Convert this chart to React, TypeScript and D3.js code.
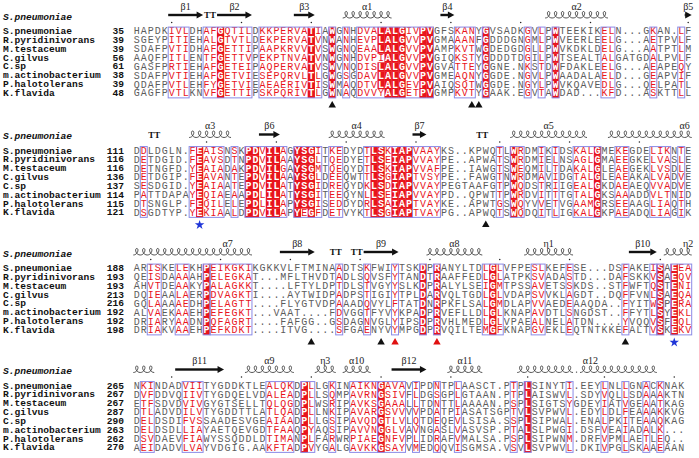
import React from 'react';
import * as d3 from 'd3';

const NAMES = ['S.pneumoniae', 'R.pyridinivorans', 'M.testaceum', 'C.gilvus', 'C.sp', 'm.actinobacterium', 'P.halotolerans', 'K.flavida'];
const REF_NAME = 'S.pneumoniae';

const START_1 = [35, 39, 39, 56, 61, 38, 39, 48];
const START_2 = [111, 116, 116, 136, 137, 114, 115, 121];
const START_3 = [188, 193, 193, 213, 216, 192, 192, 198];
const START_4 = [265, 267, 267, 287, 290, 263, 262, 270];

const SEQ_1 = [
  'HAPDKIVLDHAFGQTILDKKPERVATIAWGNHDVALALGIVPVGFSKANYGVSADKGVLPWTEEKIKELN...GKAN.LF',
  'SGEYPITIEHALGTVTLDEKPERVATVNWANHEVPLALGVVPVGMAAANFGDDDGNGMLPWVEERLEELG...AETPVLF',
  'SDAFPVTIDHAFGETTIPAAPKRVVTVSWGNQEAALALGVVPVAMPKVTWGDEDGDGLLPWVKDKLDELG...AATPTLM',
  'AAQFPITLENTFGETTVPEKPTNVATVNWGNHDVPIALGVVPVGIQKSTYGDDDTDGILPWTSEALTALGATGDALPVLF',
  'GASFPRTIEHAFGETEIPAQPERVATVSWVNQDISLALGVVPVGVATTEYGGNE.NKSTDWFDAKLEELG...AEAPEQY',
  'SDAFPVTIEHAFGETVIESEPQRVLTLGWGSGDAVLALGVVPVGMEAQNYGGDE.NGVLPWAADALAELD...GEAPVIF',
  'QDAFPVTLEHFYGETVIEAEAERIVTISWMAQDTVLALGEVPVAIQSQTWGGDE.NGYLPWVKQAVEDLG...QELPATL',
  'GAGFPVTLKNVFGETTIPSKPQRIVTLGWNAQDVVYALGETPVGMPKVTYGAAK.EGVTAWDAD...KFD...ASKTTLL',
];
const SEQ_2 = [
  'DDLDGLN.FEAISNSKPDVILAGYSGITKEDYDTLSKIAPVAAYKS..KPWQTLWRDMIKIDSKALGMEKEGDELIKNTE',
  'DETDGID.FEAVSDTNPDVILAAYSGLTQEDYETLSEIAPVVAYPE..APWATSWRDMIELNSAGLGMAEEGKELVASLE',
  'DETNGFD.YEAIADAKPDVILGAYSGMTQEQYDTLSKIAPVVAFPE..IAWGTSWEQMILTDAKALGLEAEGEKLVSDLE',
  'DETDGIP.FEAVANTEPDVILAAYSGLDEEQWTTLSGIAPTVSYPE..FAWGTNWRDMAVIDGTALGLEAEAKALVADVE',
  'SESDGID.YEAIAATEPDVILATYSGIDREQYDKLSDIAPVVAYPEGTAAFGTPWQDSTRIIGEALGKDAEAEQVVADVE',
  'PATTDAPAYEQIAEAAPDLILATYSGITEEQYNLLSEIAPVVAYPD..QPWTTPWRDVITTTGTALGKSAAADDVLTNID',
  'DTSNGLP.FEQILELEPDLILAPYSGISEDDYDRLSAIAPTVAYKE..APWTGSWQYVVETVGAAMGRSEEAAGLIAQTH',
  'DSGDTYP.YEKIAALDPDVILAPYEGFDETVYKTLSGIAPTVAYPG..APWQTSWQDQITLIGKALGKPAEADQLIAGIK',
];
const SEQ_3 = [
  'ARISKELEKHPEIKGKIKGKKVLFTMINAADTSKFWIYTSKDPRANYLTDLGLVFPESLKEFESE...DSFAKEISAEEA',
  'QEISDAAAAHPELEGKAT...MFLTHVDTADLSQVSFYTANDTRAAFFEDLGLATPKSVADASTD...DAFSKKVSAEQV',
  'AHVTDEAAKYPALAGKKT....LFTYLDPTDLSTVGYYSLKDPRALYLSEIGMTPSSAVETSSKDS..STFWFTQSTENI',
  'DQIEAALAERPDVAGKTI....AYTWIDPADPSTIGIYTPLDARVQLTGDLGLVDAPSVVKLAGDT..DQFFVNLSAEQA',
  'GQLAAAAEDHPELAGTT....FLYGTVDPAAADQVYLFTATDNRPKFLSALGMDLAPVVAEDEAAQDA..FYITWSPERA',
  'ALVAEKAAEHPEFEGKT...VAAT....FDVGGTFYVYKPADPRVEFLLDLGLKNAPAVDTLSNGDST..FFYTLSYEKL',
  'DRIARYAADNPQFAGRT....FAFGG..GSDAGNVGLYIPSDPRVHLMEDLGLVPAEALNELATDN....YVQQVSFEQL',
  'DRIAKVAAEHPEFKDKT....ITVG....SFGAENYVYMPGDPRVQILTEMGFKNAPGVEKLEQTNTKKEFALTVSKEKV',
];
const SEQ_4 = [
  'NKINDADVIITYGDDKTLEALQKDPLLGKINAIKNGAVAVIPDNTPLAASCT.PTPLSINYTI.EEYLNLLGNACKNAK',
  'DVFDDVQIIVTYGDQELVDALEADPLLSQMPAVRNGSIVFLDGSGPLGTAAN.PTPLAISWVL.SDYVQLLSDAAAKTN',
  'ETFSDVDVIVGYGTSELLTQLQGDPLWSRIPAVKSGAAALLTDNTTLAAAAN.PSPLSIGTSYGDEYIATVGEAATKAG',
  'DTLADVDILVTYGDDTTLATLQADPLLNKIPAVARGSVVVVPDATPIASATSGPTVLSVPWVL.EDYLDLFEAAAKKVG',
  'DELDSDIFVSSAADESVGEAIAADPLLGSIPAVQDGTLVLQTDEQEVLSISA.SSPLSIPWAL.ENALPKITEAAQKAG',
  'DELDSDLLIAYAETQEVGDTFAAQPYAQSIPAVVNGGLVAVNGASLVASVSP.PTALSLPWGI.DSFVEAIADALK...',
  'DSVDAEVFIAWYSSQDDLDTIMANPLFARWRPIAEGNFVPLIDRAFVMALSA.PSPLSIPWNM.DRFVPMLAETLEQ..',
  'AEIDADVLVAYVDGIG.AAKFTADPVYGALGAVKKGSAYVMEDQQVISGMSA.VSVLSVPWVL.DKIVPGLSKAAEAAN',
];

// conservation class per column: '-' none, 'b' similar (framed), 'r' identical (red), case change = new frame
const CONS_1 = '-----bbb--bbrbbbb-bbbbbbbrb-r-b-bbbrrrrbbrr---bbb-r-----b-b-r------bb-----b---b-';
const CONS_2 = '-b------brbbb-b-rrbrrb-rrrb-bb---brrbrrrBBBB--------b-rb--b-b--bbbr--bb---bbb-b-';
const CONS_3 = '--bb--bb--rBBBBBB------------b---b---b---r-r------brb----bb---b-------b---bR-rbb';
const CONS_4 = '-bb----bbb---------bbbb-rb--b--bbbbRBBB-b--b--b-------b-r-----b----b--b--b-b---';

// secondary structure: block, type (E strand, H helix, T turn, D gap dot), first col, last col, label, label col
const SS_BLOCK = [0, 0, 0, 0, 0, 0, 0, 0, 1, 1, 1, 1, 1, 1, 1, 1, 2, 2, 2, 2, 2, 2, 2, 2, 2, 2, 3, 3, 3, 3, 3, 3, 3, 3, 3, 3];
const SS_TYPE = ['E', 'T', 'E', 'E', 'H', 'E', 'H', 'E', 'T', 'H', 'E', 'H', 'E', 'T', 'H', 'H', 'H', 'H', 'E', 'T', 'T', 'E', 'H', 'H', 'E', 'H', 'H', 'E', 'H', 'H', 'H', 'E', 'H', 'H', 'D', 'H'];
const SS_FROM = [5, 10, 12, 23, 30, 44, 59, 79, 2, 8, 18, 28, 40, 49, 54, 68, 0, 10, 21, 28, 31, 33, 42, 56, 71, 76, 0, 6, 16, 26, 30, 37, 45, 55, 63, 64];
const SS_TO = [9, 11, 16, 25, 36, 45, 67, 79, 3, 13, 20, 35, 41, 50, 64, 79, 9, 16, 25, 29, 32, 37, 49, 62, 74, 79, 2, 12, 22, 28, 33, 41, 49, 62, 63, 74];
const SS_LABEL = ['β1', '', 'β2', 'β3', 'α1', 'β4', 'α2', 'β5', '', 'α3', 'β6', 'α4', 'β7', '', 'α5', 'α6', '', 'α7', 'β8', '', '', 'β9', 'α8', 'η1', 'β10', 'η2', '', 'β11', 'α9', 'η3', 'α10', 'β12', 'α11', 'α12', '', ''];
const SS_LABEL_COL: (number | null)[] = [null, null, null, null, null, null, null, null, null, null, null, null, null, null, null, 78.5, null, null, null, null, null, null, null, null, null, 79, null, null, null, null, null, null, null, 65, null, null];

// residue markers under blocks
const MARK_BLOCK = [0, 0, 0, 1, 1, 2, 2, 2, 2, 2, 2];
const MARK_COL = [28, 48, 49, 9, 50, 25, 35, 37, 43, 70, 77];
const MARK_KIND = ['tri', 'tri', 'tri', 'star', 'tri', 'tri', 'tri', 'redtri', 'redtri', 'tri', 'star'];

const BLOCKS = [
  { seqs: SEQ_1, starts: START_1, cons: CONS_1 },
  { seqs: SEQ_2, starts: START_2, cons: CONS_2 },
  { seqs: SEQ_3, starts: START_3, cons: CONS_3 },
  { seqs: SEQ_4, starts: START_4, cons: CONS_4 },
];

const W = 699;
const H = 458;
const X0 = 133.3;
const CW = 6.98;
const ROW_H = 8.85;
const ROW1_Y = [31.5, 151, 268.5, 386];

const RED = '#e8141c';
const FRAME = '#8a8ae6';
const GREY = '#5c5c5c';
const MONO = "'Liberation Mono', 'DejaVu Sans Mono', monospace";
const SERIF = "'Liberation Serif', 'DejaVu Serif', serif";

function frameRuns(cons: string): [number, number][] {
  const out: [number, number][] = [];
  let i = 0;
  while (i < cons.length) {
    const ch = cons[i];
    if (ch === '-') { i++; continue; }
    const up = ch === ch.toUpperCase();
    let j = i;
    while (j + 1 < cons.length && cons[j + 1] !== '-' && (cons[j + 1] === cons[j + 1].toUpperCase()) === up) j++;
    out.push([i, j]);
    i = j + 1;
  }
  return out;
}

function consensus(seqs: string[], c: number): string | undefined {
  const chars = seqs.map((s) => s[c]).filter((ch) => ch && ch !== '.');
  const cnt = d3.rollup(chars, (v) => v.length, (d) => d);
  const g = d3.greatest(Array.from(cnt), (d) => d[1]);
  return g ? g[0] : undefined;
}

function helixPath(x: d3.ScaleLinear<number, number>, from: number, to: number, yb: number): string {
  let p = '';
  for (let c = from; c <= to; c++) {
    const a = x(c);
    const w = CW;
    p += `M${a},${yb} C${a + w * 0.65},${yb} ${a + w * 0.85},${yb - 6.5} ${a + w * 0.5},${yb - 6.5} C${a + w * 0.15},${yb - 6.5} ${a + w * 0.35},${yb} ${a + w},${yb} `;
  }
  return p;
}

export default function App() {
  const x = d3.scaleLinear().domain([0, 80]).range([X0, X0 + 80 * CW]);
  const yRow = (b: number, i: number) => ROW1_Y[b] + i * ROW_H;
  const triPath = d3.symbol().type(d3.symbolTriangle).size(24)() as string;
  const starPath = d3.symbol().type(d3.symbolStar).size(28)() as string;

  return (
    <svg width={W} height={H} viewBox={`0 0 ${W} ${H}`} style={{ position: 'absolute', left: 0, top: 0, background: '#fff' }}>
      <rect x={0} y={0} width={W} height={H} fill="#fff" />
      {BLOCKS.map((blk, b) => {
        const y1 = yRow(b, 0);
        const yTop = y1 - ROW_H / 2;
        const yBot = yRow(b, 7) + ROW_H / 2;
        const ncol = blk.seqs[0].length;
        const cons = d3.range(ncol).map((c) => consensus(blk.seqs, c));
        const runs = frameRuns(blk.cons);
        const dots: number[] = [];
        let num = blk.starts[0];
        for (let c = 0; c < ncol; c++) {
          if (blk.seqs[0][c] !== '.') {
            if (num % 10 === 0) dots.push(c);
            num++;
          }
        }
        const ssIdx = d3.range(SS_BLOCK.length).filter((k) => SS_BLOCK[k] === b);
        const markIdx = d3.range(MARK_BLOCK.length).filter((k) => MARK_BLOCK[k] === b);
        const ySS = y1 - 16.5;
        return (
          <g key={b}>
            <text x={3} y={y1 - 14.5} dominantBaseline="central" fontFamily={MONO} fontWeight="bold" fontStyle="italic" fontSize={9.6} fill="#111">{REF_NAME}</text>
            {dots.map((c) => (
              <circle key={'d' + c} cx={x(c) + CW / 2} cy={y1 - 9} r={0.75} fill="#222" />
            ))}
            {ssIdx.map((k) => {
              const t = SS_TYPE[k];
              const a = x(SS_FROM[k]);
              const e = x(SS_TO[k] + 1);
              const lc = SS_LABEL_COL[k];
              const lx = lc != null ? x(lc) + CW / 2 : (a + e) / 2;
              return (
                <g key={'ss' + k}>
                  {t === 'E' && (
                    <g>
                      <rect x={a} y={ySS - 1.2} width={Math.max(0.5, e - a - 6)} height={2.4} fill="#111" />
                      <polygon points={`${e - 6.5},${ySS - 3.6} ${e},${ySS} ${e - 6.5},${ySS + 3.6}`} fill="#111" />
                    </g>
                  )}
                  {t === 'H' && <path d={helixPath(x, SS_FROM[k], SS_TO[k], ySS + 3)} fill="none" stroke="#333" strokeWidth={0.85} />}
                  {t === 'T' && (
                    <text x={(a + e) / 2} y={ySS} dominantBaseline="central" textAnchor="middle" fontFamily={SERIF} fontWeight="bold" fontSize={9} fill="#111">TT</text>
                  )}
                  {t === 'D' && <circle cx={(a + e) / 2} cy={ySS + 2.6} r={0.7} fill="#333" />}
                  {SS_LABEL[k] && (
                    <text x={lx} y={y1 - 25.5} dominantBaseline="central" textAnchor="middle" fontFamily={SERIF} fontSize={10} fill="#222">{SS_LABEL[k]}</text>
                  )}
                </g>
              );
            })}
            {blk.seqs.map((s, i) => (
              <g key={'r' + i}>
                <text x={3} y={yRow(b, i)} dominantBaseline="central" fontFamily={MONO} fontWeight="bold" fontSize={9.6} fill="#111">{NAMES[i]}</text>
                <text x={124} y={yRow(b, i)} dominantBaseline="central" textAnchor="end" fontFamily={MONO} fontWeight="bold" fontSize={9.6} fill="#111">{blk.starts[i]}</text>
                {s.split('').map((ch, c) => {
                  const cls = blk.cons[c] || '-';
                  const lc = cls.toLowerCase();
                  const filled = lc === 'r' && ch === cons[c];
                  const col = ch === '.' ? GREY : filled ? '#fff' : lc === '-' ? GREY : RED;
                  return (
                    <g key={c}>
                      {filled && <rect x={x(c) - 0.15} y={yRow(b, i) - ROW_H / 2 - 0.15} width={CW + 0.3} height={ROW_H + 0.3} fill={RED} />}
                      <text x={x(c) + CW / 2} y={yRow(b, i) + 0.4} dominantBaseline="central" textAnchor="middle" fontFamily={MONO} fontWeight={filled ? 'bold' : 'normal'} fontSize={10} fill={col}>{ch}</text>
                    </g>
                  );
                })}
              </g>
            ))}
            {runs.map(([s0, s1]) => (
              <rect key={'f' + s0} x={x(s0)} y={yTop} width={x(s1 + 1) - x(s0)} height={yBot - yTop} fill="none" stroke={FRAME} strokeWidth={1} />
            ))}
            {markIdx.map((k) => {
              const cx = x(MARK_COL[k]) + CW / 2;
              const cy = yBot + 7.5;
              const kind = MARK_KIND[k];
              return (
                <path key={'m' + k} d={kind === 'star' ? starPath : triPath} transform={`translate(${cx},${cy})`} fill={kind === 'star' ? '#1f35d8' : kind === 'redtri' ? '#e01010' : '#111'} />
              );
            })}
          </g>
        );
      })}
    </svg>
  );
}
